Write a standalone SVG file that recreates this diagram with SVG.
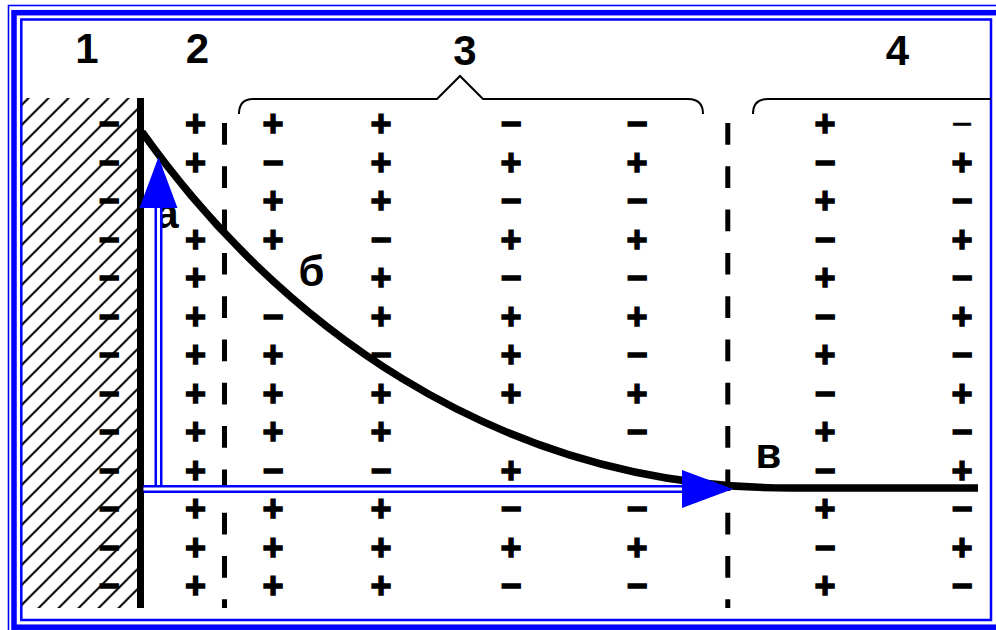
<svg xmlns="http://www.w3.org/2000/svg" width="996" height="630" viewBox="0 0 996 630">
<style>
.s{font-family:"Liberation Sans",Arial,sans-serif;font-weight:bold;font-size:36px;text-anchor:middle;fill:#000;stroke:#000;stroke-width:1.4px}
.thin{font-weight:normal;stroke-width:0.6px}
.lbl{font-family:"Liberation Sans",Arial,sans-serif;font-weight:bold;font-size:42px;text-anchor:middle;fill:#000}
.brace{fill:none;stroke:#000;stroke-width:2}
.dash{fill:none;stroke:#000;stroke-width:5;stroke-dasharray:21.7 21.6}
.fr{fill:none;stroke:#0000ff}
.dbl{fill:none;stroke:#0000ff;stroke-width:8}
.gap{fill:none;stroke:#fff;stroke-width:3}
</style>
<defs>
<pattern id="hatch" patternUnits="userSpaceOnUse" width="20" height="20" patternTransform="translate(6.6,0)">
<path d="M-5,5 L5,-5 M0,20 L20,0 M15,25 L25,15" stroke="#000" stroke-width="2"/>
</pattern>
<marker id="ah" markerUnits="userSpaceOnUse" viewBox="0 0 52 38" markerWidth="52" markerHeight="38" refX="0" refY="19" orient="auto" overflow="visible">
<path d="M0,0 L51,19 L0,38 z" fill="#0000ff"/>
</marker>
</defs>
<rect width="996" height="630" fill="#fff"/>
<g id="frame">
<rect class="fr" x="8.5" y="5.5" width="1010" height="640" stroke-width="1.6"/>
<rect class="fr" x="14" y="12.7" width="1000" height="614.5" stroke-width="5.5"/>
<rect class="fr" x="21.3" y="19.5" width="969.7" height="600.5" stroke-width="2.5"/>
</g>
<g id="zone1">
<rect x="22" y="98" width="115" height="510" fill="url(#hatch)"/>
<rect x="137" y="98" width="7" height="510" fill="#000"/>
</g>
<g id="headers">
<text class="lbl" x="87" y="63">1</text>
<text class="lbl" x="197.5" y="63">2</text>
<text class="lbl" x="465" y="64.5">3</text>
<text class="lbl" x="897.5" y="64.5">4</text>
<path class="brace" d="M239,114 Q239,99 253,99 L437,99 L460,76 L483,99 L688,99 Q703,99 703,114"/>
<path class="brace" d="M753,114 Q753,99 768,99 L991,99"/>
</g>
<g id="boundaries">
<line class="dash" x1="224.5" y1="123" x2="224.5" y2="608"/>
<line class="dash" x1="727.8" y1="123" x2="727.8" y2="608"/>
</g>
<g id="col1">
<text class="s" x="109" y="136.1">−</text>
<text class="s" x="109" y="174.6">−</text>
<text class="s" x="109" y="213.1">−</text>
<text class="s" x="109" y="251.6">−</text>
<text class="s" x="109" y="290.1">−</text>
<text class="s" x="109" y="328.6">−</text>
<text class="s" x="109" y="367.1">−</text>
<text class="s" x="109" y="405.6">−</text>
<text class="s" x="109" y="444.1">−</text>
<text class="s" x="109" y="482.6">−</text>
<text class="s" x="109" y="521.1">−</text>
<text class="s" x="109" y="559.6">−</text>
<text class="s" x="109" y="598.1">−</text>
</g>
<g id="col2">
<text class="s" x="195.5" y="136.1">+</text>
<text class="s" x="195.5" y="174.6">+</text>
<text class="s" x="195.5" y="251.6">+</text>
<text class="s" x="195.5" y="290.1">+</text>
<text class="s" x="195.5" y="328.6">+</text>
<text class="s" x="195.5" y="367.1">+</text>
<text class="s" x="195.5" y="405.6">+</text>
<text class="s" x="195.5" y="444.1">+</text>
<text class="s" x="195.5" y="482.6">+</text>
<text class="s" x="195.5" y="521.1">+</text>
<text class="s" x="195.5" y="559.6">+</text>
<text class="s" x="195.5" y="598.1">+</text>
</g>
<g id="col3a">
<text class="s" x="273" y="136.1">+</text>
<text class="s" x="273" y="174.6">−</text>
<text class="s" x="273" y="213.1">+</text>
<text class="s" x="273" y="251.6">+</text>
<text class="s" x="273" y="328.6">−</text>
<text class="s" x="273" y="367.1">+</text>
<text class="s" x="273" y="405.6">+</text>
<text class="s" x="273" y="444.1">+</text>
<text class="s" x="273" y="482.6">−</text>
<text class="s" x="273" y="521.1">+</text>
<text class="s" x="273" y="559.6">+</text>
<text class="s" x="273" y="598.1">+</text>
</g>
<g id="col3b">
<text class="s" x="381" y="136.1">+</text>
<text class="s" x="381" y="174.6">+</text>
<text class="s" x="381" y="213.1">+</text>
<text class="s" x="381" y="251.6">−</text>
<text class="s" x="381" y="290.1">+</text>
<text class="s" x="381" y="328.6">+</text>
<text class="s" x="381" y="367.1">−</text>
<text class="s" x="381" y="405.6">+</text>
<text class="s" x="381" y="444.1">+</text>
<text class="s" x="381" y="482.6">−</text>
<text class="s" x="381" y="521.1">+</text>
<text class="s" x="381" y="559.6">+</text>
<text class="s" x="381" y="598.1">+</text>
</g>
<g id="col3c">
<text class="s" x="511" y="136.1">−</text>
<text class="s" x="511" y="174.6">+</text>
<text class="s" x="511" y="213.1">−</text>
<text class="s" x="511" y="251.6">+</text>
<text class="s" x="511" y="290.1">−</text>
<text class="s" x="511" y="328.6">+</text>
<text class="s" x="511" y="367.1">+</text>
<text class="s" x="511" y="405.6">+</text>
<text class="s" x="511" y="482.6">+</text>
<text class="s" x="511" y="521.1">−</text>
<text class="s" x="511" y="559.6">+</text>
<text class="s" x="511" y="598.1">−</text>
</g>
<g id="col3d">
<text class="s" x="637" y="136.1">−</text>
<text class="s" x="637" y="174.6">+</text>
<text class="s" x="637" y="213.1">−</text>
<text class="s" x="637" y="251.6">+</text>
<text class="s" x="637" y="290.1">−</text>
<text class="s" x="637" y="328.6">+</text>
<text class="s" x="637" y="367.1">−</text>
<text class="s" x="637" y="405.6">+</text>
<text class="s" x="637" y="444.1">−</text>
<text class="s" x="637" y="521.1">−</text>
<text class="s" x="637" y="559.6">+</text>
<text class="s" x="637" y="598.1">−</text>
</g>
<g id="col4a">
<text class="s" x="825" y="136.1">+</text>
<text class="s" x="825" y="174.6">−</text>
<text class="s" x="825" y="213.1">+</text>
<text class="s" x="825" y="251.6">−</text>
<text class="s" x="825" y="290.1">+</text>
<text class="s" x="825" y="328.6">−</text>
<text class="s" x="825" y="367.1">+</text>
<text class="s" x="825" y="405.6">−</text>
<text class="s" x="825" y="444.1">+</text>
<text class="s" x="825" y="482.6">−</text>
<text class="s" x="825" y="521.1">+</text>
<text class="s" x="825" y="559.6">−</text>
<text class="s" x="825" y="598.1">+</text>
</g>
<g id="col4b">
<text class="s thin" x="962" y="136.1">−</text>
<text class="s" x="962" y="174.6">+</text>
<text class="s" x="962" y="213.1">−</text>
<text class="s" x="962" y="251.6">+</text>
<text class="s" x="962" y="290.1">−</text>
<text class="s" x="962" y="328.6">+</text>
<text class="s" x="962" y="367.1">−</text>
<text class="s" x="962" y="405.6">+</text>
<text class="s" x="962" y="444.1">−</text>
<text class="s" x="962" y="482.6">+</text>
<text class="s" x="962" y="521.1">−</text>
<text class="s" x="962" y="559.6">+</text>
<text class="s" x="962" y="598.1">−</text>
</g>
<g id="curve">
<path d="M142,132 C272,315 490,488 790,488 L978,488" fill="none" stroke="#000" stroke-width="7.5"/>
</g>
<g id="point-labels">
<text class="lbl" x="167" y="228">а</text>
<text class="lbl" x="311.5" y="286">б</text>
<text class="lbl" x="768.5" y="468">в</text>
</g>
<g id="connectors">
<path class="dbl" d="M158.5,489 V208" marker-end="url(#ah)"/>
<path class="gap" d="M158.5,489 V208"/>
<path class="dbl" d="M143.5,489 H682" marker-end="url(#ah)"/>
<path class="gap" d="M143.5,489 H682"/>
</g>
</svg>
